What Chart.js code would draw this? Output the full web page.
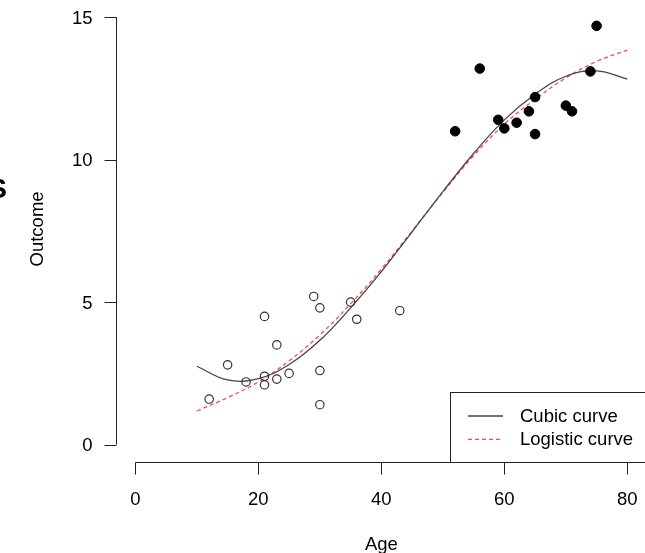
<!DOCTYPE html>
<html>
<head>
<meta charset="utf-8">
<script src="https://cdn.jsdelivr.net/npm/chart.js@4.4.1/dist/chart.umd.min.js"></script>
<style>
    html, body { margin: 0; padding: 0; background: #fff; overflow: hidden; }
    #wrap { width: 660px; height: 553px; }
</style>
</head>
<body>
<div id="wrap"><canvas id="plot" width="660" height="553"></canvas></div>
<script>
// observations, split by group
const ageYoung = [12, 15, 18, 21, 21, 21, 23, 23, 25, 29, 30, 30, 30, 35, 36, 43];
const outcomeYoung = [1.6, 2.8, 2.2, 4.5, 2.4, 2.1, 3.5, 2.3, 2.5, 5.2, 4.8, 2.6, 1.4, 5.0, 4.4, 4.7];
const ageOld = [52, 56, 59, 60, 62, 64, 65, 65, 70, 71, 74, 75];
const outcomeOld = [11.0, 13.2, 11.4, 11.1, 11.3, 11.7, 12.2, 10.9, 11.9, 11.7, 13.1, 14.7];

// fitted curves
const curveAge = [10, 15, 20, 25, 30, 35, 40, 45, 50, 55, 60, 65, 70, 75, 80];
const cubicFit = [2.75, 2.27, 2.32, 2.81, 3.66, 4.8, 6.07, 7.47, 8.88, 10.22, 11.4, 12.3, 12.93, 13.12, 12.83];
const logisticFit = [1.18, 1.65, 2.2, 2.94, 3.85, 4.94, 6.16, 7.5, 8.85, 10.14, 11.25, 12.12, 12.87, 13.45, 13.85];

const xTicks = [0, 20, 40, 60, 80];
const yTicks = [0, 5, 10, 15];

const FONT = '"Liberation Sans", Arial, sans-serif';
const INK = '#222';

const toPoints = (xs, ys) => xs.map((x, i) => ({ x: x, y: ys[i] }));

// axes, labels and legend drawn base-graphics style
const baseAxes = {
    id: 'baseAxes',
    afterDraw(chart) {
        const ctx = chart.ctx;
        const xs = chart.scales.x;
        const ys = chart.scales.y;
        const area = chart.chartArea;
        const tick = 12;

        ctx.save();
        ctx.strokeStyle = INK;
        ctx.fillStyle = '#000';
        ctx.lineWidth = 1;

        // y axis
        const left = Math.round(area.left) + 0.5;
        ctx.beginPath();
        ctx.moveTo(left, ys.getPixelForValue(yTicks[0]));
        ctx.lineTo(left, ys.getPixelForValue(yTicks[yTicks.length - 1]));
        yTicks.forEach(v => {
            const py = Math.round(ys.getPixelForValue(v)) + 0.5;
            ctx.moveTo(left, py);
            ctx.lineTo(left - tick, py);
        });
        ctx.stroke();
        ctx.font = '18.5px ' + FONT;
        ctx.textAlign = 'right';
        ctx.textBaseline = 'middle';
        yTicks.forEach(v => {
            ctx.fillText(String(v), left - tick - 12, ys.getPixelForValue(v) + 1.5);
        });

        // x axis
        const bottom = Math.round(area.bottom) + 0.5;
        ctx.beginPath();
        ctx.moveTo(xs.getPixelForValue(xTicks[0]), bottom);
        ctx.lineTo(xs.getPixelForValue(xTicks[xTicks.length - 1]), bottom);
        xTicks.forEach(v => {
            const px = Math.round(xs.getPixelForValue(v)) + 0.5;
            ctx.moveTo(px, bottom);
            ctx.lineTo(px, bottom + tick);
        });
        ctx.stroke();
        ctx.textAlign = 'center';
        ctx.textBaseline = 'alphabetic';
        xTicks.forEach(v => {
            ctx.fillText(String(v), xs.getPixelForValue(v), bottom + 42);
        });

        // axis titles
        ctx.fillText('Age', (area.left + area.right) / 2, 550);
        ctx.save();
        ctx.translate(42.5, (area.top + area.bottom) / 2 - 2);
        ctx.rotate(-Math.PI / 2);
        ctx.fillText('Outcome', 0, 0);
        ctx.restore();

        // panel letter at the left margin
        ctx.font = 'bold 28px ' + FONT;
        ctx.textAlign = 'right';
        ctx.fillText('S', 7, 198);

        // legend, bottom right of the plot region
        const boxLeft = 450.5, boxTop = 392.5;
        ctx.fillStyle = '#fff';
        ctx.fillRect(boxLeft, boxTop, area.right + 10 - boxLeft, bottom - boxTop);
        ctx.strokeStyle = INK;
        ctx.strokeRect(boxLeft, boxTop, area.right + 10 - boxLeft, bottom - boxTop);

        const rows = chart.data.datasets.filter(d => d.showLine);
        ctx.font = '18.5px ' + FONT;
        ctx.textAlign = 'left';
        ctx.textBaseline = 'middle';
        rows.forEach((d, i) => {
            const ry = 416 + i * 23.3;
            ctx.beginPath();
            ctx.strokeStyle = d.borderColor;
            ctx.lineWidth = d.borderWidth;
            ctx.setLineDash(d.borderDash || []);
            ctx.moveTo(468, ry);
            ctx.lineTo(503, ry);
            ctx.stroke();
            ctx.setLineDash([]);
            ctx.fillStyle = '#000';
            ctx.fillText(d.label, 520, ry + 1);
        });
        ctx.restore();
    }
};

new Chart(document.getElementById('plot'), {
    type: 'scatter',
    data: {
        datasets: [
            {
                label: 'Age < 45',
                data: toPoints(ageYoung, outcomeYoung),
                pointStyle: 'circle',
                pointRadius: 4.2,
                pointBorderWidth: 1.2,
                pointBorderColor: '#333',
                pointBackgroundColor: 'rgba(255,255,255,0)'
            },
            {
                label: 'Age >= 45',
                data: toPoints(ageOld, outcomeOld),
                pointStyle: 'circle',
                pointRadius: 4.8,
                pointBorderWidth: 1,
                pointBorderColor: '#000',
                pointBackgroundColor: '#000'
            },
            {
                label: 'Cubic curve',
                data: toPoints(curveAge, cubicFit),
                showLine: true,
                pointRadius: 0,
                borderColor: '#444',
                borderWidth: 1.3,
                tension: 0.4
            },
            {
                label: 'Logistic curve',
                data: toPoints(curveAge, logisticFit),
                showLine: true,
                pointRadius: 0,
                borderColor: '#ff4a4a',
                borderWidth: 1.3,
                borderDash: [4, 3],
                tension: 0.4
            }
        ]
    },
    options: {
        responsive: false,
        animation: false,
        layout: {
            autoPadding: false,
            padding: { left: 115.7, top: 0.2, right: 13, bottom: 91.3 }
        },
        scales: {
            x: { type: 'linear', min: -3.2, max: 83.2, display: false },
            y: { type: 'linear', min: -0.6, max: 15.6, display: false }
        },
        plugins: {
            legend: { display: false },
            tooltip: { enabled: false }
        }
    },
    plugins: [baseAxes]
});
</script>
</body>
</html>
